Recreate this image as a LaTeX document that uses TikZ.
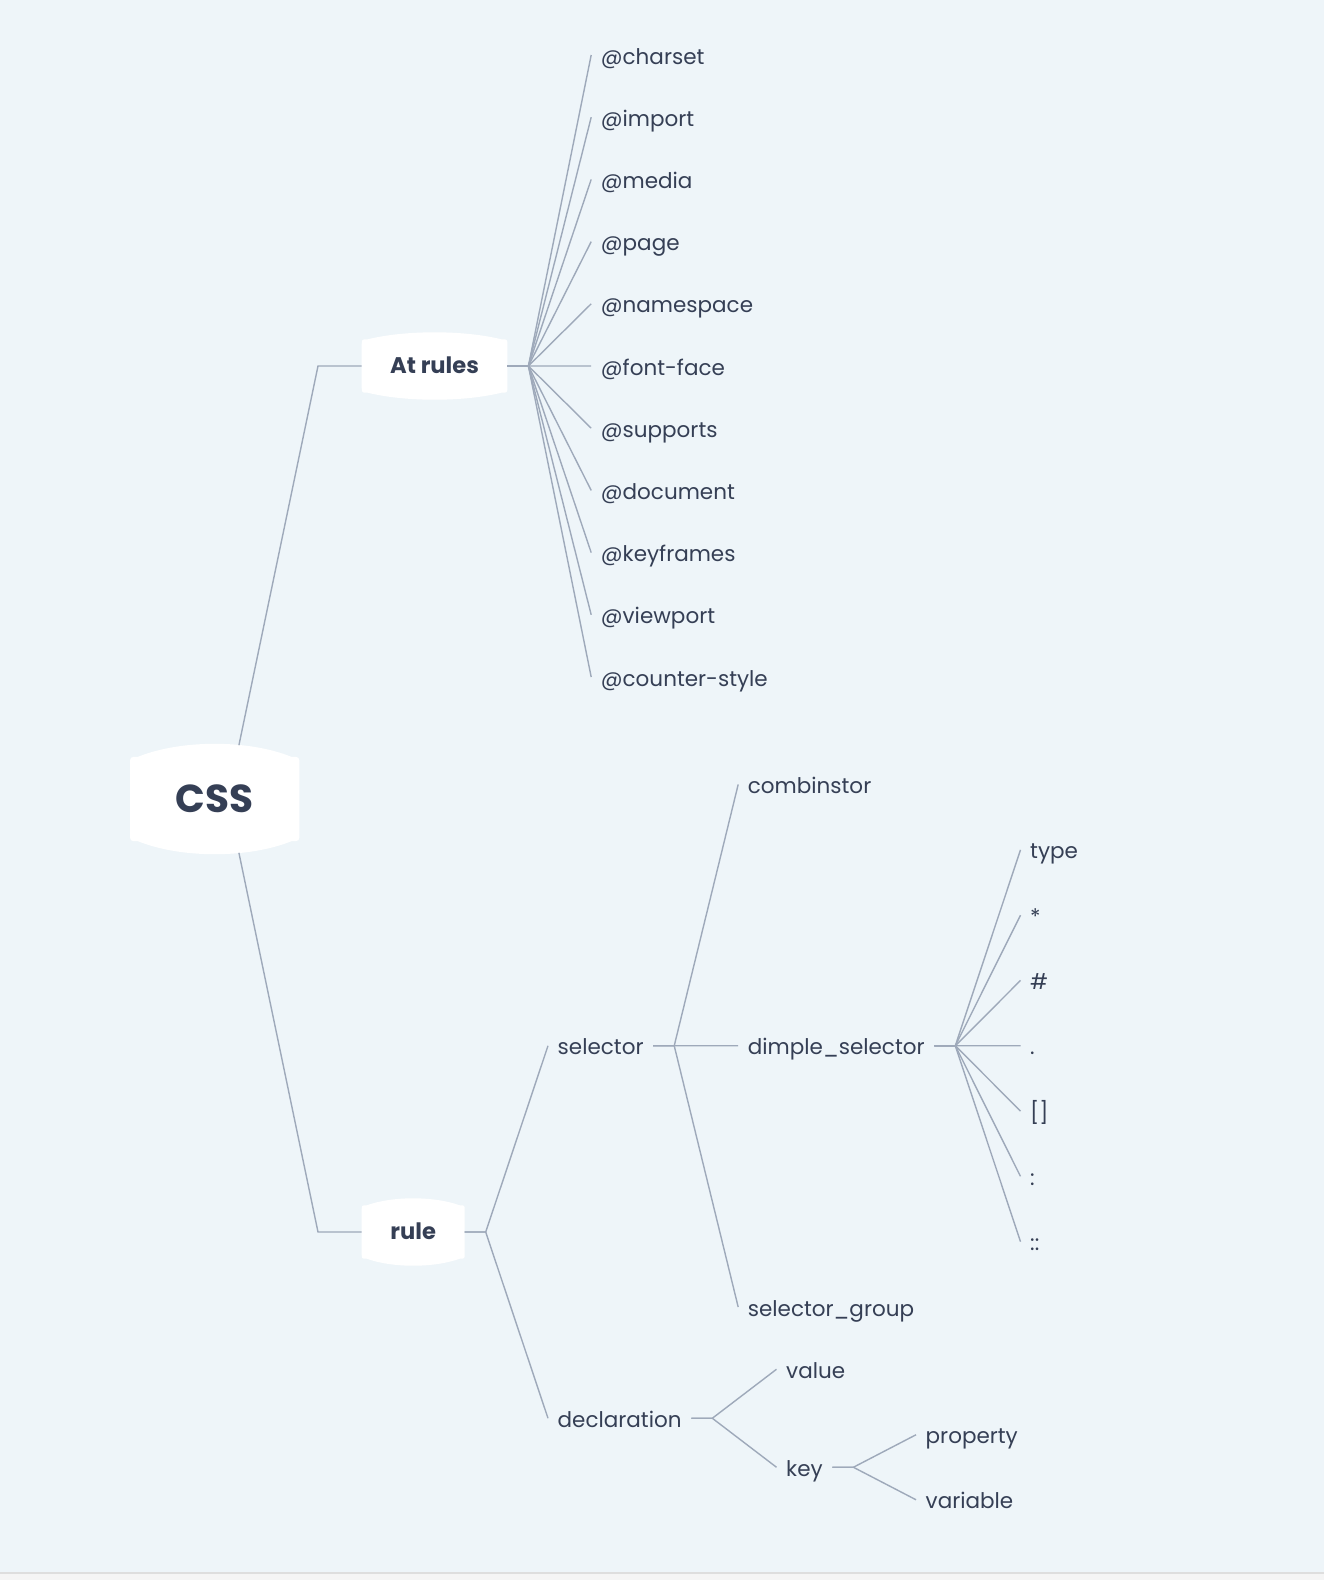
\documentclass[tikz,border=0pt]{standalone}
\usepackage{fontspec}
\setmainfont{Poppins}
\usetikzlibrary{trees,calc,backgrounds}

\definecolor{bgcol}{RGB}{238,245,249}
\definecolor{inkcol}{RGB}{53,63,85}
\definecolor{linkcol}{RGB}{158,169,186}

% white box behind a topic: node, bulge, corner
\newcommand\topicblob[3]{%
  \fill[white] ($(#1.north west)+(0,-#2-#3)$)
    -- ($(#1.south west)+(0,#2+#3)$)
    .. controls ($(#1.south west)+(0,#2)$) .. ($(#1.south west)+(#3,#2)$)
    .. controls ($(#1.south west)!0.3!(#1.south east)+(0,-#2/3)$) and ($(#1.south west)!0.7!(#1.south east)+(0,-#2/3)$) .. ($(#1.south east)+(-#3,#2)$)
    .. controls ($(#1.south east)+(0,#2)$) .. ($(#1.south east)+(0,#2+#3)$)
    -- ($(#1.north east)+(0,-#2-#3)$)
    .. controls ($(#1.north east)+(0,-#2)$) .. ($(#1.north east)+(-#3,-#2)$)
    .. controls ($(#1.north west)!0.7!(#1.north east)+(0,#2/3)$) and ($(#1.north west)!0.3!(#1.north east)+(0,#2/3)$) .. ($(#1.north west)+(#3,-#2)$)
    .. controls ($(#1.north west)+(0,-#2)$) .. cycle;}

\tikzset{
  rootnode/.style={font=\bfseries\fontsize{39}{42}\selectfont, minimum width=169pt,
    minimum height=110pt, text height=27pt, inner xsep=0pt},
  topic/.style={font=\bfseries\fontsize{22.6}{26}\selectfont, minimum height=67pt,
    text height=15.8pt, inner xsep=0pt},
}

\begin{document}
\begin{tikzpicture}[x=1pt, y=1pt,
  every node/.style={anchor=west, text=inkcol, font=\fontsize{21.5}{25}\selectfont,
    inner xsep=9.5pt, inner ysep=0pt, text height=18pt, text depth=0pt},
  grow'=right, growth parent anchor=west,
  level/.style={edge from parent/.style={draw=linkcol, line width=1.4pt},
    edge from parent path={(\tikzparentnode.east) -- ++(21pt,0pt) -- (\tikzchildnode.west)}},
  level 1/.style={edge from parent/.style={draw=linkcol, line width=1.4pt, shorten <=55pt},
    edge from parent path={($(\tikzparentnode.center)+(13pt,0pt)$)
      -- ([xshift=-43.7pt]\tikzchildnode.west) -- (\tikzchildnode.west)}}]
  \useasboundingbox (0,0) rectangle (1324,-1580);
  \node[rootnode] (css) at (130,-799) {CSS} [level distance=231.7pt, sibling distance=866pt]
    child {node[topic, minimum width=145.3pt] (atrules) {At rules}
      [level distance=229.5pt, sibling distance=62.2pt]
      child foreach \a in {charset,import,media,page,namespace,font-face,
        supports,document,keyframes,viewport,counter-style} {node (\a) {@\a}}
    }
    child {node[topic, minimum width=102.6pt] (rule) {rule}
      [level distance=186.3pt, sibling distance=372.5pt]
      child {node (selector) {selector} [level distance=190.2pt, sibling distance=261.3pt]
        child {node (combinstor) {combinstor}}
        child {node (dimple) {dimple\_selector} [level distance=282.3pt, sibling distance=65.3pt]
          child {node (type) {type}}
          child {node (star) {*}}
          child {node (hash) {\#}}
          child {node (dot) {.}}
          child {node (attr) {[]}}
          child {node (pseudo) {:}}
          child {node (pseudoel) {::}}
        }
        child {node (selgroup) {selector\_group}}
      }
      child {node (decl) {declaration} [level distance=228.5pt, sibling distance=98pt]
        child {node (value) {value}}
        child {node (key) {key} [level distance=139.5pt, sibling distance=65pt]
          child {node (property) {property}}
          child {node (variable) {variable}}
        }
      }
    };
  \begin{scope}[on background layer]
    \fill[bgcol] (0,0) rectangle (1324,-1572);
    \fill[black!4] (0,-1572) rectangle (1324,-1580);
    \fill[black!13] (0,-1571.5) rectangle (1324,-1573.5);
    \topicblob{css}{13}{8}
    \topicblob{atrules}{7}{6}
    \topicblob{rule}{7}{5}
  \end{scope}
\end{tikzpicture}
\end{document}
